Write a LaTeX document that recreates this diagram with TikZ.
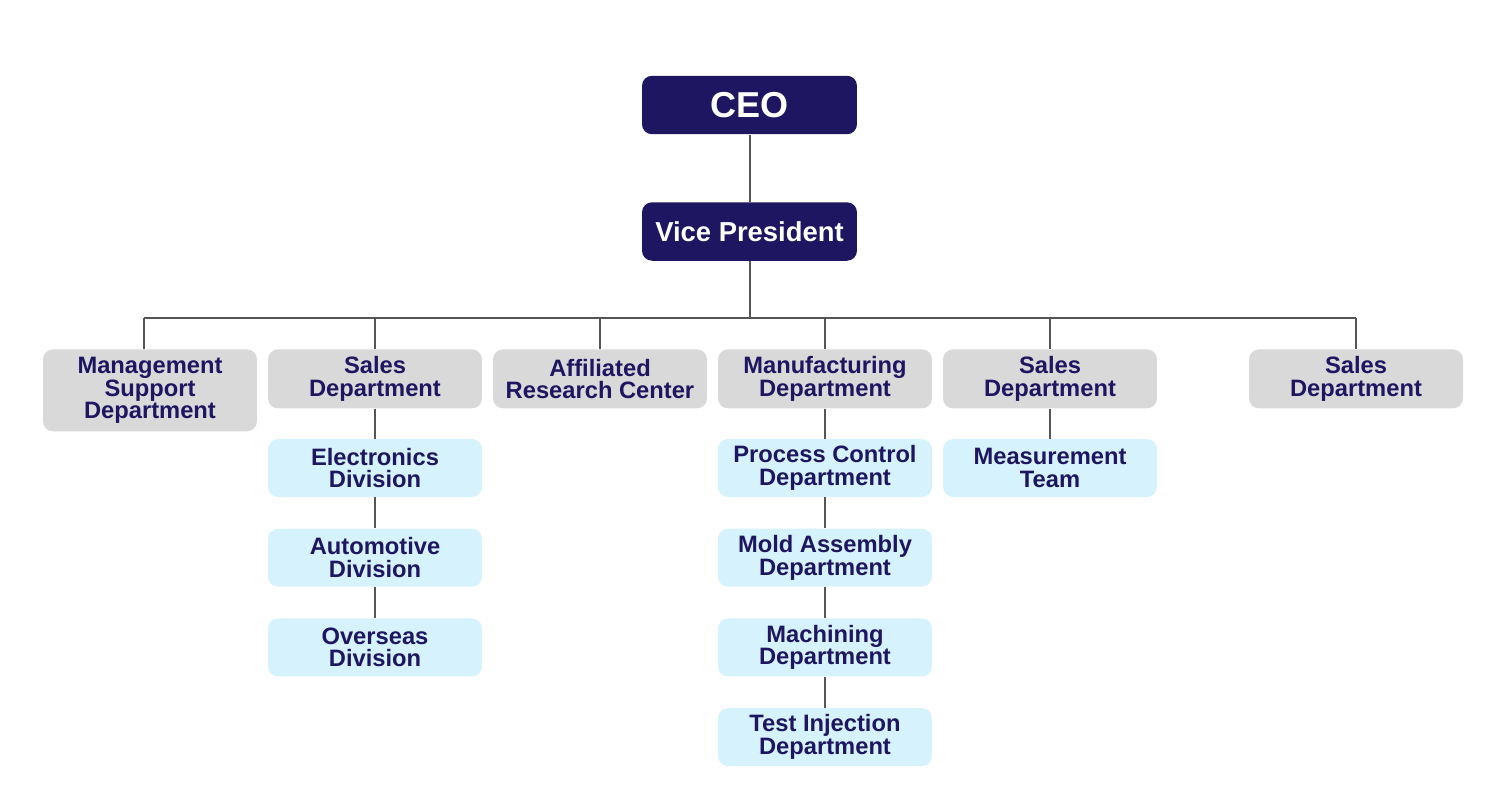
\documentclass[tikz,border=0pt]{standalone}
\usepackage{fontspec}
\setmainfont{Liberation Sans}
\usetikzlibrary{positioning}

\definecolor{navy}{RGB}{30,22,96}
\definecolor{deptgray}{RGB}{217,217,217}
\definecolor{unitblue}{RGB}{214,242,252}
\definecolor{wiregray}{RGB}{85,85,85}

\begin{document}
\begin{tikzpicture}[x=0.02cm,y=-0.02cm,
  head/.style={fill=navy,text=white,rounded corners=5.7pt,minimum width=4.3cm,minimum height=1.17cm,inner sep=0pt},
  dept/.style={fill=deptgray,text=navy,rounded corners=5.7pt,minimum width=4.28cm,minimum height=1.18cm,inner sep=0pt,align=center,anchor=north,
    font={\fontsize{13.5}{12.8}\selectfont\bfseries}},
  unit/.style={fill=unitblue,text=navy,rounded corners=5.7pt,minimum width=4.28cm,minimum height=1.16cm,inner sep=0pt,align=center,
    font={\fontsize{13.5}{12.8}\selectfont\bfseries}},
  wire/.style={draw=wiregray,line width=1.15pt},
  node distance=0.62cm]

\useasboundingbox (0,0) rectangle (1500,798);

% top of the chart
\node[head,font={\fontsize{20.5}{22}\selectfont\bfseries}] (ceo) at (749.5,105) {CEO};
\node[head,font={\fontsize{15.6}{17}\selectfont\bfseries}] (vp) at (749.5,231.5) {Vice President};

% departments
\node[dept,minimum height=1.64cm] (mgmt) at (150,349) {Management\\Support\\Department};
\node[dept] (sales) at (375,349) {Sales\\Department};
\node[dept] (research) at (600,349) {Affiliated\\Research Center};
\node[dept] (manuf) at (825,349) {Manufacturing\\Department};
\node[dept] (salesB) at (1050,349) {Sales\\Department};
\node[dept] (salesC) at (1356,349) {Sales\\Department};

% units under sales
\node[unit,below=0.6cm of sales] (elec) {Electronics\\Division};
\node[unit,below=of elec] (auto) {Automotive\\Division};
\node[unit,below=of auto] (overseas) {Overseas\\Division};

% units under manufacturing
\node[unit,below=0.6cm of manuf] (process) {Process Control\\Department};
\node[unit,below=of process] (mold) {Mold Assembly\\Department};
\node[unit,below=of mold] (machining) {Machining\\Department};
\node[unit,below=of machining] (injection) {Test Injection\\Department};

\node[unit,below=0.6cm of salesB] (measure) {Measurement\\Team};

% connectors
\coordinate (busL) at (144,318);
\coordinate (busR) at (1356,318);

\draw[wire] (ceo) -- (vp);
\draw[wire] (vp.south) -- (vp.south |- busL);
\draw[wire] (busL) -- (busR);
\draw[wire] (busL) -- (busL |- mgmt.north);
\foreach \d in {sales,research,manuf,salesB,salesC}
  \draw[wire] (\d.north |- busL) -- (\d.north);

\draw[wire] (sales) -- (elec);
\draw[wire] (elec) -- (auto);
\draw[wire] (auto) -- (overseas);
\draw[wire] (manuf) -- (process);
\draw[wire] (process) -- (mold);
\draw[wire] (mold) -- (machining);
\draw[wire] (machining) -- (injection);
\draw[wire] (salesB) -- (measure);

\end{tikzpicture}
\end{document}
